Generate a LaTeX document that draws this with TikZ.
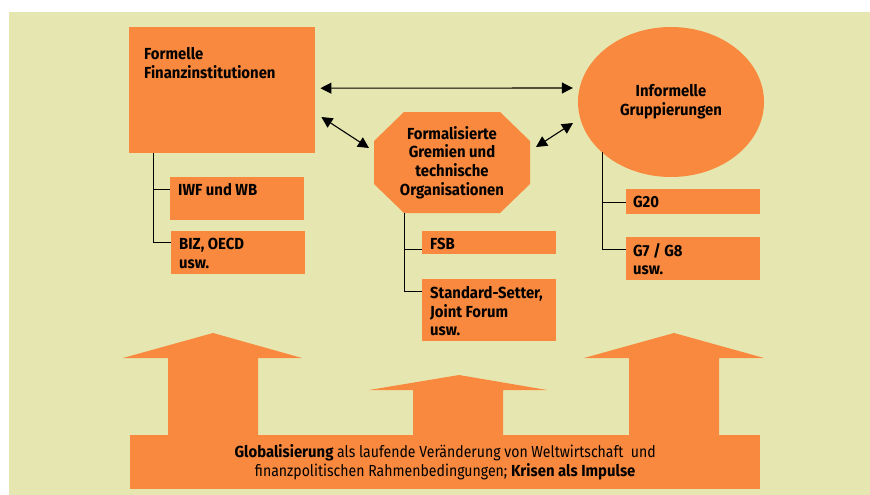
\documentclass[tikz,border=0pt]{standalone}
\usepackage{fontspec}
\setmainfont{Fira Sans}[UprightFeatures={FakeStretch=0.88}, BoldFeatures={FakeStretch=0.93}]
\usetikzlibrary{arrows.meta,shapes.geometric,calc}
\definecolor{bgc}{RGB}{230,230,176}
\definecolor{orc}{RGB}{248,137,62}
\newcommand{\fs}{\fontsize{16}{18.7}\selectfont}
\begin{document}
\begin{tikzpicture}[x=1pt,y=-1pt,
  box/.style={fill=orc, draw=none, inner sep=0pt, anchor=north west},
  txt/.style={font=\fs\bfseries, align=left, inner sep=0pt, anchor=north west},
  arr/.style={{Triangle[length=11pt,width=11pt]}-{Triangle[length=11pt,width=11pt]}, line width=1.1pt},
  tree/.style={line width=1pt, black},
  bigarrow/.style={fill=orc, draw=none}]
\useasboundingbox (0,0) rectangle (870,495);
\fill[white] (0,0) rectangle (870,495);
\fill[bgc] (9,12) rectangle (870,495);

% boxes
\node[box, minimum width=186pt, minimum height=126pt] (fi) at (129,27) {};
\node[box, minimum width=134pt, minimum height=43pt] (iwf) at (170,177) {};
\node[box, minimum width=134pt, minimum height=43pt] (biz) at (171,231) {};
\node[box, minimum width=134pt, minimum height=23pt] (fsb) at (422,231) {};
\node[box, minimum width=134pt, minimum height=62pt] (std) at (422,279) {};
\node[box, minimum width=134pt, minimum height=25pt] (g20) at (626,189) {};
\node[box, minimum width=134pt, minimum height=43pt] (g7) at (626,237) {};

% texts in boxes
\node[txt] (tfi) at (144,47) {Formelle\\Finanzinstitutionen};
\node[txt] (tiwf) at (178,183) {IWF und WB};
\node[txt] (tbiz) at (179,238) {BIZ, OECD\\usw.};
\node[txt] (tfsb) at (430,237.5) {FSB};
\node[txt] (tstd) at (430,286) {Standard-Setter,\\Joint Forum\\usw.};
\node[txt] (tg20) at (633,195.5) {G20};
\node[txt] (tg7) at (633,243) {G7 / G8\\usw.};

% ellipse
\node[ellipse, fill=orc, minimum width=186pt, minimum height=150pt, inner sep=0pt,
      font=\fs\bfseries, align=center] (ig) at (671,102) {Informelle\\Gruppierungen};

% octagon
\coordinate (oc) at (452,162.5);
\fill[orc] ($(oc)+(-48,-50.5)$) -- ($(oc)+(48,-50.5)$) -- ($(oc)+(78,-21.5)$) -- ($(oc)+(78,21.5)$)
  -- ($(oc)+(48,50.5)$) -- ($(oc)+(-48,50.5)$) -- ($(oc)+(-78,21.5)$) -- ($(oc)+(-78,-21.5)$) -- cycle;
\node[font=\fs\bfseries, align=center, inner sep=0pt] (fo) at (oc)
  {Formalisierte\\Gremien und\\technische\\Organisationen};

% connectors
\draw[arr, shorten <=5pt, shorten >=5pt] ([yshift=2pt]fi.east) -- ([yshift=14pt]ig.west);
\coordinate (a1) at ($(fi.north east)+(6,90)$);
\coordinate (a2) at ($(oc)+(-83,-14.5)$);
\coordinate (a3) at ($(oc)+(84,-15.5)$);
\coordinate (a4) at ($(ig.center)+(-98,21)$);
\draw[arr] (a1) -- (a2);
\draw[arr] (a3) -- (a4);

% trees
\draw[tree] ([xshift=24pt]fi.south west) |- ([yshift=-11pt]biz.north west);
\draw[tree] ([xshift=24pt]fi.south west) |- ([yshift=-12pt]iwf.north west);
\coordinate (om) at ($(oc)+(-48,50.5)$);
\draw[tree] (om) |- ([yshift=-18pt]fsb.north west);
\draw[tree] (om) |- ([yshift=-12pt]std.north west);
\coordinate (im) at ($(ig.center)+(-69,50.3)$);
\draw[tree] (im) |- ([yshift=-13pt]g20.north west);
\draw[tree] (im) |- ([yshift=-12pt]g7.north west);

% big arrows
\fill[bigarrow] (168,436) -- (168,358) -- (123,358) -- (213,333) -- (302,358) -- (258,358) -- (258,436) -- cycle;
\fill[bigarrow] (413,436) -- (413,390) -- (369,390) -- (459,375) -- (547,390) -- (503,390) -- (503,436) -- cycle;
\fill[bigarrow] (629,436) -- (629,358) -- (584,358) -- (674,333) -- (764,358) -- (719,358) -- (719,436) -- cycle;
\node[box, minimum width=630pt, minimum height=54pt, font=\fs, align=center] (gb) at (130,435)
  {\textbf{Globalisierung} als laufende Veränderung von Weltwirtschaft\ \ und\\
   finanzpolitischen Rahmenbedingungen; \textbf{Krisen als Impulse}};
\end{tikzpicture}
\end{document}
